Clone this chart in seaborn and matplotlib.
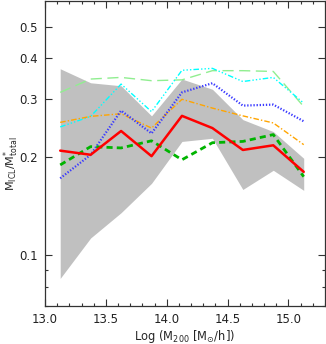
import matplotlib
matplotlib.use("Agg")
import matplotlib.pyplot as plt
from matplotlib.ticker import FixedLocator, NullFormatter, MultipleLocator
import seaborn as sns
import numpy as np

# mass bins (log M200)
log_m200 = [13.125, 13.375, 13.625, 13.875, 14.125, 14.375, 14.625, 14.875, 15.125]

# scatter band
band_low = [0.085, 0.113, 0.135, 0.166, 0.223, 0.228, 0.159, 0.182, 0.158]
band_high = [0.372, 0.337, 0.330, 0.267, 0.346, 0.322, 0.260, 0.239, 0.198]

# ICL fractions
red = [0.209, 0.203, 0.240, 0.201, 0.267, 0.245, 0.210, 0.217, 0.180]
green = [0.189, 0.215, 0.213, 0.224, 0.196, 0.221, 0.223, 0.234, 0.174]
blue = [0.172, 0.203, 0.277, 0.236, 0.315, 0.336, 0.287, 0.289, 0.257]
orange = [0.255, 0.266, 0.271, 0.245, 0.300, 0.282, 0.267, 0.254, 0.218]
cyan = [0.247, 0.266, 0.334, 0.275, 0.368, 0.373, 0.340, 0.350, 0.292]
lightgreen = [0.315, 0.346, 0.350, 0.342, 0.344, 0.367, 0.367, 0.365, 0.285]

sns.set_style("ticks")
plt.rcParams['font.family'] = ['DejaVu Sans']

fig = plt.figure(figsize=(3.26, 3.44), dpi=100)
ax = fig.add_axes([0.138, 0.1105, 0.859, 0.887])

ax.fill_between(log_m200, band_low, band_high, color='#c0c0c0', lw=0)

sns.lineplot(x=log_m200, y=lightgreen, ax=ax, color='#90ee90', lw=1.0,
             linestyle=(0, (8, 4)))
sns.lineplot(x=log_m200, y=cyan, ax=ax, color='#00ffff', lw=1.0,
             linestyle=(0, (4, 1.5, 1, 1.5, 1, 1.5, 1, 1.5)))
sns.lineplot(x=log_m200, y=orange, ax=ax, color='#ffa500', lw=1.0,
             linestyle=(0, (4, 1.5, 1, 1.5)))
sns.lineplot(x=log_m200, y=blue, ax=ax, color='#3a3aff', lw=1.6,
             linestyle=(0, (0.6, 0.8)))
sns.lineplot(x=log_m200, y=green, ax=ax, color='#00b400', lw=2.0,
             linestyle=(0, (2.2, 1.5)))
sns.lineplot(x=log_m200, y=red, ax=ax, color='#ff0000', lw=1.8)

ax.set_yscale('log')
ax.set_xlim(13.0, 15.3)
ax.set_ylim(0.07, 0.6)

ax.yaxis.set_major_locator(FixedLocator([0.1, 0.2, 0.3, 0.4, 0.5]))
ax.yaxis.set_minor_locator(FixedLocator([0.07, 0.08, 0.09]))
ax.yaxis.set_major_formatter(plt.FuncFormatter(lambda v, p: f"{v:.1f}"))
ax.yaxis.set_minor_formatter(NullFormatter())
ax.xaxis.set_major_locator(MultipleLocator(0.5))
ax.xaxis.set_minor_locator(MultipleLocator(0.1))
ax.xaxis.set_major_formatter(plt.FuncFormatter(lambda v, p: f"{v:.1f}"))

ax.tick_params(which='both', direction='in', top=True, right=True,
               colors='#333333', labelcolor='#222222', labelsize=8.5)
ax.tick_params(which='major', length=5, width=0.8, pad=5)
ax.tick_params(which='minor', length=2.5, width=0.8)
for s in ax.spines.values():
    s.set_color('#333333')
    s.set_linewidth(0.9)

ax.set_xlabel(r'Log (M$_{200}$ [M$_{\odot}$/h])', fontsize=8.3, labelpad=1.5)
ax.set_ylabel(r'M$_{\rm ICL}$/M$^{*}_{\rm total}$', fontsize=8.0)
ax.yaxis.set_label_coords(-0.086, 0.466)

fig.savefig('out.png', dpi=100)
